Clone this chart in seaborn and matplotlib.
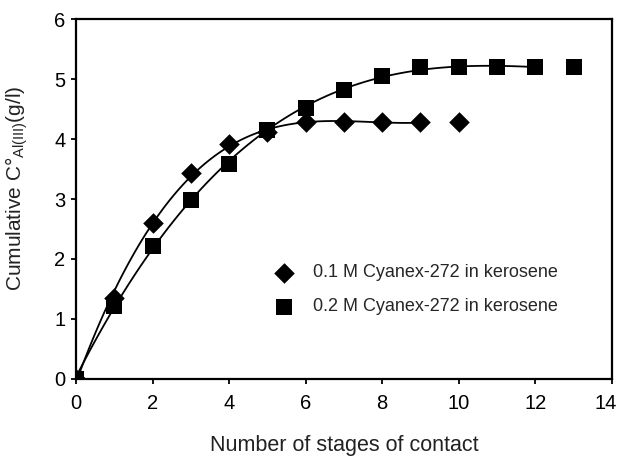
import matplotlib
matplotlib.use("Agg")
import matplotlib.pyplot as plt
import matplotlib.transforms as mtrans
import seaborn as sns
import numpy as np
import pandas as pd

stages_01 = [0, 1, 2, 3, 4, 5, 6, 7, 8, 9, 10]
conc_01 = [0.0, 1.35, 2.6, 3.44, 3.91, 4.12, 4.28, 4.28, 4.28, 4.28, 4.28]
stages_02 = [0, 1, 2, 3, 4, 5, 6, 7, 8, 9, 10, 11, 12, 13]
conc_02 = [0.0, 1.22, 2.21, 2.99, 3.59, 4.15, 4.52, 4.82, 5.05, 5.2, 5.2, 5.2, 5.2, 5.2]
label_01 = "0.1 M Cyanex-272 in kerosene"
label_02 = "0.2 M Cyanex-272 in kerosene"

df1 = pd.DataFrame({"x": stages_01, "y": conc_01})
df2 = pd.DataFrame({"x": stages_02, "y": conc_02})

sns.set_theme(style="ticks")
plt.rcParams['font.family'] = ['Liberation Sans', 'DejaVu Sans']
plt.rcParams['mathtext.fontset'] = 'custom'
plt.rcParams['mathtext.rm'] = 'Liberation Sans'

fig = plt.figure(figsize=(6.18, 4.57), dpi=100)
ax = fig.add_axes([0.123, 0.1707, 0.867, 0.7877])

# fitted trend curves
sns.regplot(data=df1[df1.x <= 9], x="x", y="y", order=3, ci=None, scatter=False,
            truncate=True, ax=ax, line_kws=dict(color="black", lw=1.3))
sns.regplot(data=df2[df2.x <= 12], x="x", y="y", order=3, ci=None, scatter=False,
            truncate=True, ax=ax, line_kws=dict(color="black", lw=1.3))

sns.scatterplot(data=df1, x="x", y="y", marker="D", s=110, color="black",
                edgecolor="black", linewidth=0, ax=ax, label=label_01, zorder=5)
sns.scatterplot(data=df2, x="x", y="y", marker="s", s=120, color="black",
                edgecolor="black", linewidth=0, ax=ax, label=label_02, zorder=5)

ax.set_xlim(0, 14)
ax.set_ylim(0, 6)
ax.set_xticks(range(0, 15, 2))
ax.set_yticks(range(0, 7))
for s in ax.spines.values():
    s.set_visible(True)
    s.set_linewidth(1.6)
    s.set_color("black")
ax.tick_params(axis="x", direction="out", length=3.5, width=1.3, labelsize=14.5, pad=7, colors="black")
ax.tick_params(axis="y", direction="out", length=3.5, width=1.3, labelsize=14.5, pad=4, colors="black")
for lab in ax.get_xticklabels() + ax.get_yticklabels():
    lab.set_fontstretch("condensed")
    lab.set_family(["Liberation Sans Narrow", "Liberation Sans", "DejaVu Sans"])
last = ax.get_xticklabels()[-1]
last.set_transform(last.get_transform() + mtrans.ScaledTranslation(-6 / 100, 0, fig.dpi_scale_trans))

ax.set_xlabel("Number of stages of contact", fontsize=15.5, labelpad=16)
ax.set_ylabel(r"Cumulative C°$_{\mathregular{Al(III)}}$(g/l)", fontsize=15, labelpad=10)
ax.yaxis.set_label_coords(-0.085, 0.53)
ax.xaxis.label.set_color("#222222")
ax.yaxis.label.set_color("#222222")

ax.legend(loc="center left", bbox_to_anchor=(0.325, 0.2475), frameon=False,
          fontsize=13, handletextpad=0.6, labelspacing=0.95, markerscale=1.0)

fig.savefig("out.png", dpi=100)
